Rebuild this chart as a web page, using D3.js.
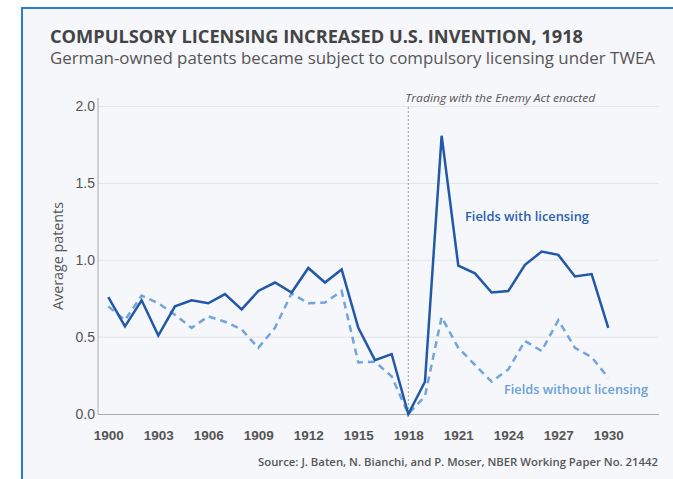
<!DOCTYPE html>
<html><head><meta charset="utf-8">
<script src="https://cdn.jsdelivr.net/npm/d3@7"></script>
<style>
html,body{margin:0;padding:0;background:#fff;}
svg{display:block;font-family:"Open Sans","Noto Sans",sans-serif;}
</style></head>
<body>
<svg id="c" width="673" height="479"></svg>
<script>
const years = d3.range(1900, 1931);
const withLicensing = [0.76,0.57,0.74,0.51,0.70,0.74,0.72,0.78,0.68,0.80,0.855,0.79,0.95,0.855,0.94,0.56,0.35,0.39,0.0,0.21,1.81,0.965,0.915,0.79,0.80,0.97,1.056,1.035,0.895,0.91,0.56];
const withoutLicensing = [0.70,0.61,0.77,0.72,0.645,0.56,0.635,0.60,0.55,0.43,0.56,0.785,0.72,0.725,0.80,0.335,0.34,0.245,0.0,0.115,0.63,0.43,0.32,0.21,0.29,0.475,0.41,0.61,0.43,0.37,0.235];
const yTicks = [0, 0.5, 1.0, 1.5, 2.0];
const xTicks = [1900,1903,1906,1909,1912,1915,1918,1921,1924,1927,1930];

const svg = d3.select("#c");
// panel
svg.append("rect").attr("x",22).attr("y",8).attr("width",660).attr("height",480)
  .attr("fill","#f5f7fb").attr("stroke","#2b7bd0").attr("stroke-width",2);

const x = d3.scaleLinear().domain([1900,1918]).range([108.3,408.3]);
const y = d3.scaleLinear().domain([0,2]).range([414,106.5]);
const left = 98, right = 659;

// gridlines
svg.append("g").selectAll("line").data(yTicks.filter(d=>d>0)).join("line")
  .attr("x1",left).attr("x2",right).attr("y1",d=>y(d)).attr("y2",d=>y(d))
  .attr("stroke","#e4e6ea").attr("stroke-width",1.2);

// y axis
const yAxis = svg.append("g").attr("transform",`translate(${left},0)`)
  .call(d3.axisLeft(y).tickValues(yTicks).tickFormat(d3.format(".1f")).tickSize(0).tickPadding(3));
yAxis.select(".domain").remove();
yAxis.selectAll("text").attr("font-size",14).attr("fill","#555").attr("font-weight",500);
svg.append("line").attr("x1",left).attr("x2",left).attr("y1",98).attr("y2",414.5)
  .attr("stroke","#aaa").attr("stroke-width",1);

// x axis
const xAxis = svg.append("g").attr("transform",`translate(0,414)`)
  .call(d3.axisBottom(x).tickValues(xTicks).tickFormat(d3.format("d")).tickSize(0).tickPadding(16));
xAxis.select(".domain").remove();
xAxis.selectAll("text").attr("font-size",13.5).attr("fill","#555").attr("font-weight",600);
svg.append("line").attr("x1",left).attr("x2",right).attr("y1",414.5).attr("y2",414.5)
  .attr("stroke","#aaa").attr("stroke-width",1.2);

// vertical event line
svg.append("line").attr("x1",x(1918)).attr("x2",x(1918)).attr("y1",107).attr("y2",414)
  .attr("stroke","#999").attr("stroke-width",1).attr("stroke-dasharray","2,2");
svg.append("text").attr("x",x(1918)-3).attr("y",102).attr("font-size",11.5)
  .attr("font-style","italic").attr("fill","#555").text("Trading with the Enemy Act enacted")
  .attr("textLength",190).attr("lengthAdjust","spacingAndGlyphs");

const line = d3.line().x((d,i)=>x(years[i])).y(d=>y(d));
svg.append("path").datum(withoutLicensing).attr("d",line).attr("fill","none")
  .attr("stroke","#72a4dc").attr("stroke-width",2.5).attr("stroke-dasharray","7,5");
svg.append("path").datum(withLicensing).attr("d",line).attr("fill","none")
  .attr("stroke","#2258a8").attr("stroke-width",2.5).attr("stroke-linejoin","miter");

svg.append("text").attr("x",465).attr("y",221).attr("font-size",13).attr("font-weight",600)
  .attr("fill","#2a5eaf").text("Fields with licensing").attr("textLength",124).attr("lengthAdjust","spacingAndGlyphs");
svg.append("text").attr("x",504).attr("y",394).attr("font-size",13).attr("font-weight",600)
  .attr("fill","#6a9fd8").text("Fields without licensing").attr("textLength",144).attr("lengthAdjust","spacingAndGlyphs");

// axis title
svg.append("text").attr("transform","translate(63,256) rotate(-90)").attr("text-anchor","middle")
  .attr("font-size",14).attr("fill","#555").text("Average patents")
  .attr("textLength",108).attr("lengthAdjust","spacingAndGlyphs");

// titles
svg.append("text").attr("x",50).attr("y",43).attr("font-size",17).attr("font-weight",700)
  .attr("fill","#444").text("COMPULSORY LICENSING INCREASED U.S. INVENTION, 1918")
  .attr("textLength",533).attr("lengthAdjust","spacingAndGlyphs");
svg.append("text").attr("x",50).attr("y",64).attr("font-size",16.5)
  .attr("fill","#555").text("German-owned patents became subject to compulsory licensing under TWEA")
  .attr("textLength",605).attr("lengthAdjust","spacingAndGlyphs");

svg.append("text").attr("x",658).attr("y",466).attr("text-anchor","end").attr("font-size",11.5)
  .attr("font-weight",600).attr("fill","#555")
  .text("Source: J. Baten, N. Bianchi, and P. Moser, NBER Working Paper No. 21442")
  .attr("textLength",400).attr("lengthAdjust","spacingAndGlyphs");
</script>
</body></html>
